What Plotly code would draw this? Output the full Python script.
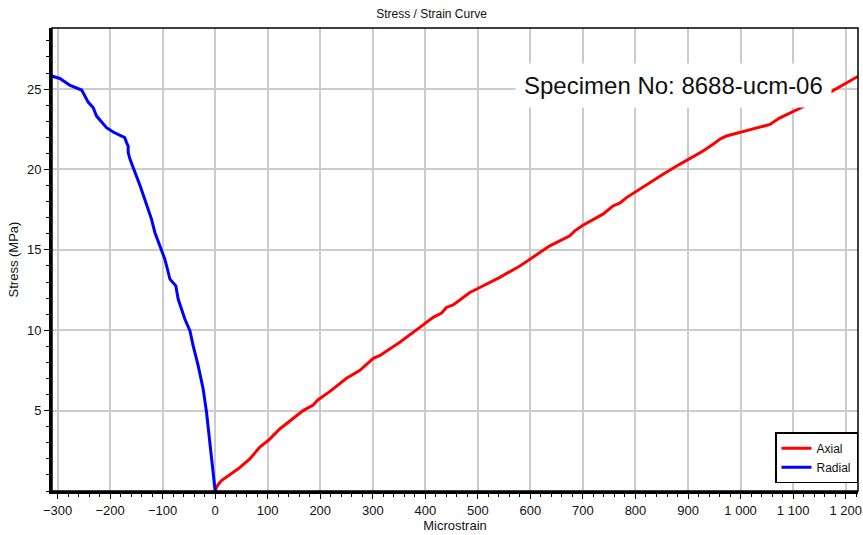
import plotly.graph_objects as go

axial_strain = [0, 2.6, 7, 12, 44, 66, 85, 101, 123, 167.5, 186.5, 196, 218, 237, 250, 275,
                301, 313, 351.5, 389.5, 415, 431, 440, 453, 484.7, 503.7, 541.8, 580, 605,
                637, 675, 684.5, 700, 738, 757, 770, 783, 802, 833.5, 852.5, 884, 903, 928.6,
                947.7, 960.4, 973, 1011, 1056, 1074, 1119, 1170, 1224, 1232]
axial_stress = [0, 0.24, 0.45, 0.65, 1.38, 2.0, 2.73, 3.14, 3.86, 5.0, 5.35, 5.68, 6.18, 6.66,
                7.01, 7.49, 8.25, 8.42, 9.25, 10.18, 10.8, 11.07, 11.42, 11.57, 12.35, 12.66,
                13.29, 14.0, 14.53, 15.25, 15.87, 16.18, 16.53, 17.22, 17.73, 17.9, 18.25,
                18.66, 19.29, 19.7, 20.32, 20.68, 21.15, 21.57, 21.88, 22.08, 22.4, 22.8,
                23.2, 23.9, 24.8, 25.8, 25.95]

radial_strain = [0, -6.9, -10, -16.4, -22.8, -32.3, -41.9, -48, -57.7, -64, -70.4, -74.8, -86,
                 -95.7, -105, -114.7, -121, -130.5, -134, -143, -152.5, -156, -162, -165.5,
                 -165.5, -168.6, -172, -178, -194, -206.7, -219, -225.7, -232, -241.7, -254,
                 -276, -295.5, -308, -315]
radial_stress = [0, 2.0, 3.24, 4.9, 6.35, 7.8, 9.04, 9.97, 10.7, 11.32, 11.94, 12.76, 13.18,
                 14.42, 15.25, 16.08, 16.9, 17.73, 18.15, 19.0, 19.8, 20.2, 20.63, 21.05,
                 21.46, 21.67, 21.98, 22.08, 22.33, 22.6, 23.1, 23.32, 23.84, 24.19, 24.94,
                 25.23, 25.66, 25.77, 25.85]

x_ticks = list(range(-300, 1201, 100))
y_ticks = [5, 10, 15, 20, 25]

FONT = "Liberation Sans, Arial, sans-serif"

fig = go.Figure()
fig.add_trace(go.Scatter(x=axial_strain, y=axial_stress, mode="lines", name="Axial",
                         line=dict(color="#ff0000", width=3)))
fig.add_trace(go.Scatter(x=radial_strain, y=radial_stress, mode="lines", name="Radial",
                         line=dict(color="#0000ff", width=3)))

fig.update_layout(
    width=863, height=535,
    margin=dict(l=52, r=5, t=28, b=44, autoexpand=False),
    paper_bgcolor="white", plot_bgcolor="white",
    separators=". ",
    font=dict(family=FONT, size=13, color="#111111"),
    title=dict(text="Stress / Strain Curve", x=0.5, xref="container", xanchor="center",
               y=0.975, yref="container", yanchor="middle",
               font=dict(family=FONT, size=12, color="#111111")),
    showlegend=True,
    legend=dict(x=1.0, y=0.017, xanchor="right", yanchor="bottom",
                bordercolor="black", borderwidth=1.5, bgcolor="white",
                font=dict(family=FONT, size=12, color="#111111"),
                tracegroupgap=0, itemwidth=30),
    xaxis=dict(
        range=[-310.5, 1223.5], tickmode="array", tickvals=x_ticks,
        separatethousands=True, automargin=False,
        showgrid=True, gridcolor="#cccccc", gridwidth=1.5,
        zeroline=False, showline=True, linecolor="black", linewidth=3,
        ticks="outside", ticklen=5, tickwidth=1, tickcolor="black",
        minor=dict(tickmode="linear", tick0=0, dtick=20, ticks="outside", ticklen=3,
                   tickcolor="black", tickwidth=1, showgrid=False),
        title=dict(text="Microstrain", standoff=4, font=dict(family=FONT, size=13)),
        tickfont=dict(family=FONT, size=13),
    ),
    yaxis=dict(
        range=[0, 28.8], tickmode="array", tickvals=y_ticks, automargin=False,
        showgrid=True, gridcolor="#cccccc", gridwidth=1.5,
        zeroline=False, showline=True, linecolor="black", linewidth=3,
        ticks="outside", ticklen=5, tickwidth=1, tickcolor="black",
        minor=dict(tickmode="linear", tick0=0, dtick=1, ticks="outside", ticklen=3,
                   tickcolor="black", tickwidth=1, showgrid=False),
        title=dict(text="Stress (MPa)", standoff=6, font=dict(family=FONT, size=13)),
        tickfont=dict(family=FONT, size=13),
    ),
)

fig.add_shape(type="rect", xref="paper", yref="paper", x0=0, x1=1, y0=0, y1=1,
              line=dict(color="black", width=1.5), layer="above")

fig.add_annotation(x=872, y=25.2, xref="x", yref="y", text="Specimen No: 8688-ucm-06",
                   showarrow=False, bgcolor="white", borderpad=8,
                   font=dict(family=FONT, size=24, color="#111111"))

fig.write_html("out.html", config={"displayModeBar": False},
               post_script="document.body.style.margin='0';document.body.style.padding='0';")
